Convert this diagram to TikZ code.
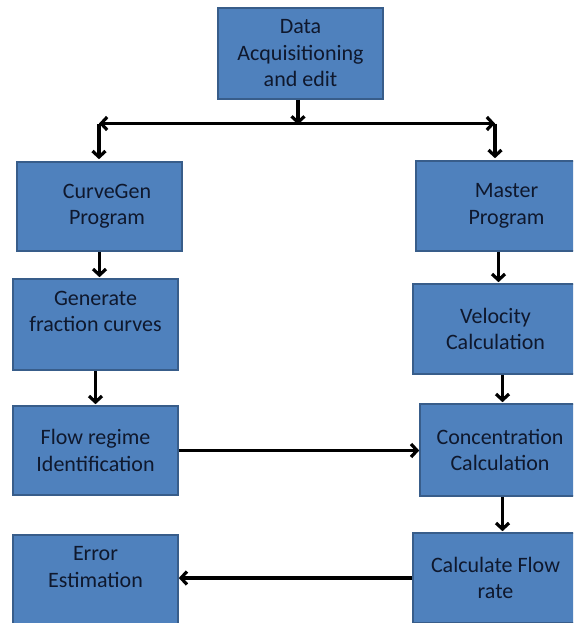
\documentclass[tikz,border=0pt]{standalone}
\usepackage{fontspec}
\setmainfont{Carlito}
\usetikzlibrary{arrows.meta}
\definecolor{boxfill}{RGB}{79,129,189}
\definecolor{boxline}{RGB}{56,93,138}
\definecolor{boxtext}{RGB}{15,24,45}
\tikzset{
  flowbox/.style={draw=boxline, line width=1.6pt, fill=boxfill, minimum width=165pt,
    minimum height=90pt, inner sep=0pt, align=center, text=boxtext,
    font=\fontsize{22}{26.5}\selectfont},
  link/.style={line width=3.2pt, -{Straight Barb[length=6pt,width=13pt]}}
}
\begin{document}
\begin{tikzpicture}[x=1pt,y=-1pt]
\useasboundingbox (0,0) rectangle (573,623);
\clip (0,0) rectangle (573,623);
\node[flowbox, minimum height=91pt] (data) at (300.5,53.5) {Data\\Acquisitioning\\and edit};
\node[flowbox, minimum height=89pt] (curve) at (99.5,206.5) {\hspace*{15pt}CurveGen\\\hspace*{15pt}Program};
\node[flowbox, minimum height=91pt] (gen) at (95.5,324.5) {Generate\\fraction curves\\\mbox{}};
\node[flowbox, minimum height=89pt] (flow) at (95.5,450.5) {Flow regime\\Identification};
\node[flowbox] (err) at (95.5,580) {Error\\Estimation\\\mbox{}};
\node[flowbox] (master) at (498.5,206) {\hspace*{16pt}Master\\\hspace*{16pt}Program};
\node[flowbox] (vel) at (495.5,329) {Velocity\\Calculation};
\node[flowbox, minimum height=92pt] (conc) at (502.5,450) {\hspace*{-5pt}Concentration\\\hspace*{-5pt}Calculation};
\node[flowbox] (calc) at (495.5,578) {Calculate Flow\\rate};
\coordinate (hub) at (298,123.5);
\coordinate (L) at (99,123.5);
\coordinate (R) at (495,123.5);
\draw[link] (hub |- data.south) -- ([yshift=-1pt]hub);
\draw[link] (hub) -- (L);
\draw[link] (hub) -- (R);
\draw[link, shorten >=2pt] (L) -- (L |- curve.north);
\draw[link, shorten >=2pt] (R) -- (R |- master.north);
\draw[link, shorten >=1pt] (curve.south) -- (curve.south |- gen.north);
\draw[link, shorten >=1pt] (gen.south) -- (gen.south |- flow.north);
\draw[link] (flow.east) -- (flow.east -| conc.west);
\draw[link, shorten >=1pt] (master.south) -- (master.south |- vel.north);
\draw[link, shorten >=1pt] (conc.north |- vel.south) -- (conc.north);
\draw[link, shorten >=1pt] (conc.south) -- (conc.south |- calc.north);
\draw[link] (calc.west) -- (calc.west -| err.east);
\end{tikzpicture}
\end{document}
